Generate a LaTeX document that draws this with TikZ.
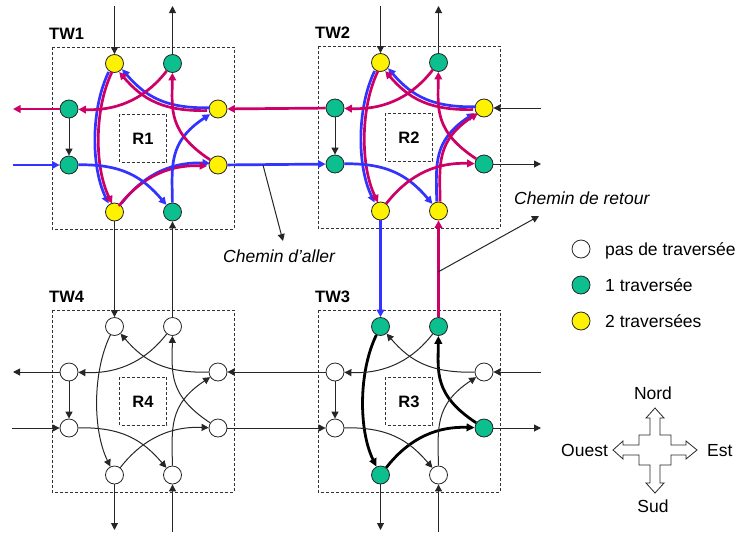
\documentclass[tikz,border=0pt]{standalone}
\usepackage{fontspec}
\setmainfont{Liberation Sans}
\usetikzlibrary{arrows.meta}
\definecolor{gr}{HTML}{0CBF8F}
\definecolor{pk}{HTML}{CC0066}
\definecolor{bl}{HTML}{3333FF}
\tikzset{
  x=1pt,y=-1pt,
  tnode/.style={circle,draw=black!85,line width=.8pt,minimum size=18pt,inner sep=0pt},
  nw/.style={tnode,fill=white},
  ng/.style={tnode,fill=gr},
  ny/.style={tnode,fill=yellow},
  dbox/.style={draw=black!80,line width=.7pt,dash pattern=on 3pt off 2pt},
  thn/.style={draw=black!85,line width=1pt,-{Triangle[length=7pt,width=7pt]}},
  thk/.style={draw=black,line width=2.8pt,-{Triangle[length=8pt,width=7.5pt]}},
  blu/.style={draw=bl,line width=2.7pt,-{Triangle[length=7.5pt,width=7.5pt]}},
  pnk/.style={draw=pk,line width=2.7pt,-{Triangle[length=7.5pt,width=7.5pt]}},
  txt/.style={inner sep=0pt,anchor=base west,font=\fontsize{17.5}{20}\selectfont},
  ctxt/.style={inner sep=0pt,anchor=base,font=\fontsize{17.5}{20}\selectfont},
  itxt/.style={txt,font=\fontsize{17.5}{20}\selectfont\itshape},
  btxt/.style={inner sep=0pt,anchor=base west,font=\fontsize{16.5}{20}\selectfont\bfseries},
  rtxt/.style={inner sep=0pt,anchor=base,font=\fontsize{16.5}{20}\selectfont\bfseries},
  p1/.style={transform canvas={xshift=-1.4pt,yshift=-1.4pt}},
  p2/.style={transform canvas={xshift=1.4pt,yshift=1.4pt}},
  p3/.style={transform canvas={xshift=-1.7pt}},
  p4/.style={transform canvas={xshift=1.7pt}},
}
\newcommand{\tower}[5]{%
  \path[dbox,draw] (#2-91,#3-91) rectangle (#2+91,#3+91);
  \path[dbox,draw] (#2-23.5,#3-24) rectangle (#2+23.5,#3+24);
  \node[rtxt] (#1R) at (#2,#3+6) {#4};
  \node[btxt] (#1L) at (#2-94,#3-98.5) {#1};
  \foreach \nm/\dx/\dy/\st in {#5}{
    \node[\st] (#1\nm) at (#2+\dx,#3+\dy) {};
  }%
}
\newcommand{\pAF}[1]{(#1a) .. controls +(-22,45) and +(-22,-45) .. (#1f)}
\newcommand{\pBH}[1]{(#1b) .. controls +(-24.5,31.5) and +(53,2) .. (#1h)}
\newcommand{\pCA}[1]{(#1c) .. controls +(-53,1) and +(30,35) .. (#1a)}
\newcommand{\pDB}[1]{(#1d) .. controls +(-50,-33) and +(-0.5,46) .. (#1b)}
\newcommand{\pEC}[1]{(#1e) .. controls +(-0.5,-46) and +(-50,33) .. (#1c)}
\newcommand{\pFD}[1]{(#1f) .. controls +(24.5,-31.5) and +(-53,-2) .. (#1d)}
\newcommand{\pGE}[1]{(#1g) .. controls +(53,-1) and +(-30,-35) .. (#1e)}
\newcommand{\pHG}[1]{(#1h) -- (#1g)}
\begin{document}
\begin{tikzpicture}
\useasboundingbox (0,0) rectangle (735,533);
% towers
\tower{TW1}{143}{138}{R1}{a/-28.5/-74.5/ny,b/29.5/-74.5/ng,c/75/-29/ny,d/75/27/ny,e/29.5/74/ng,f/-28.5/74/ny,g/-74/27/ng,h/-74/-29/ng}
\tower{TW2}{409}{137}{R2}{a/-28.5/-74.5/ny,b/29.5/-74.5/ng,c/75/-29/ny,d/75/27/ng,e/29.5/74/ny,f/-28.5/74/ny,g/-74/27/ng,h/-74/-29/ng}
\tower{TW3}{409}{401}{R3}{a/-28.5/-74.5/ng,b/29.5/-74.5/ng,c/75/-29/nw,d/75/27/ng,e/29.5/74/nw,f/-28.5/74/ng,g/-74/27/nw,h/-74/-29/nw}
\tower{TW4}{143}{401}{R4}{a/-28.5/-74.5/nw,b/29.5/-74.5/nw,c/75/-29/nw,d/75/27/nw,e/29.5/74/nw,f/-28.5/74/nw,g/-74/27/nw,h/-74/-29/nw}
% free ends
\coordinate (i1n) at (114.5,6);  \coordinate (o1n) at (172.5,6);
\coordinate (o1w) at (13,109);   \coordinate (i1w) at (13,165);
\coordinate (i2n) at (380.5,6);  \coordinate (o2n) at (438.5,6);
\coordinate (i2e) at (541,108);  \coordinate (o2e) at (541,164);
\coordinate (o4w) at (13,372);   \coordinate (i4w) at (12,428);
\coordinate (o4s) at (114.5,530);\coordinate (i4s) at (172.5,532);
\coordinate (o3s) at (380.5,530);\coordinate (i3s) at (438.5,532);
\coordinate (i3e) at (541,372);  \coordinate (o3e) at (541,428);
% TW1 routes
\draw[blu,p3] \pAF{TW1};  \draw[pnk,p4] \pAF{TW1};
\draw[blu,p2] \pCA{TW1};  \draw[pnk,p1] \pCA{TW1};
\draw[blu,p2] \pFD{TW1};  \draw[pnk,p1] \pFD{TW1};
\draw[blu] \pEC{TW1};
\draw[blu] \pGE{TW1};
\draw[pnk] \pBH{TW1};
\draw[pnk] \pDB{TW1};
\draw[thn] \pHG{TW1};
% TW2 routes
\draw[blu,p3] \pAF{TW2};  \draw[pnk,p4] \pAF{TW2};
\draw[blu,p2] \pCA{TW2};  \draw[pnk,p1] \pCA{TW2};
\draw[blu,p3] \pEC{TW2};  \draw[pnk,p4] \pEC{TW2};
\draw[blu] \pGE{TW2};
\draw[pnk] \pFD{TW2};
\draw[pnk] \pBH{TW2};
\draw[pnk] \pDB{TW2};
\draw[thn] \pHG{TW2};
% TW3 routes
\draw[thk] \pAF{TW3};
\draw[thk] \pDB{TW3};
\draw[thk] \pFD{TW3};
\draw[thn] \pBH{TW3};
\draw[thn] \pCA{TW3};
\draw[thn] \pEC{TW3};
\draw[thn] \pGE{TW3};
\draw[thn] \pHG{TW3};
% TW4 routes
\draw[thn] \pAF{TW4};
\draw[thn] \pBH{TW4};
\draw[thn] \pCA{TW4};
\draw[thn] \pDB{TW4};
\draw[thn] \pEC{TW4};
\draw[thn] \pFD{TW4};
\draw[thn] \pGE{TW4};
\draw[thn] \pHG{TW4};
% external links
\draw[thn] (i1n) -- (TW1a);
\draw[thn] (TW1b) -- (o1n);
\draw[pnk] (TW1h) -- (o1w);
\draw[blu] (i1w) -- (TW1g);
\draw[pnk] (TW2h) -- (TW1c);
\draw[blu] (TW1d) -- (TW2g);
\draw[thn] (TW1f) -- (TW4a);
\draw[thn] (TW4b) -- (TW1e);
\draw[thn] (i2n) -- (TW2a);
\draw[thn] (TW2b) -- (o2n);
\draw[thn] (i2e) -- (TW2c);
\draw[thn] (TW2d) -- (o2e);
\draw[blu] (TW2f) -- (TW3a);
\draw[pnk] (TW3b) -- (TW2e);
\draw[thn] (TW4h) -- (o4w);
\draw[thn] (i4w) -- (TW4g);
\draw[thn] (TW3h) -- (TW4c);
\draw[thn] (TW4d) -- (TW3g);
\draw[thn] (TW4f) -- (o4s);
\draw[thn] (i4s) -- (TW4e);
\draw[thn] (TW3f) -- (o3s);
\draw[thn] (i3s) -- (TW3e);
\draw[thn] (i3e) -- (TW3c);
\draw[thn] (TW3d) -- (o3e);
% annotations
\node[itxt] (aller) at (223,262) {Chemin d’aller};
\node[itxt] (retour) at (514,204) {Chemin de retour};
\coordinate (as) at (263,165); \coordinate (ae) at (283,241);
\coordinate (rs) at (438,272); \coordinate (re) at (539,216);
\draw[thn] (as) -- (ae);
\draw[thn] (rs) -- (re);
% legend
\node[nw] (l0) at (581,249) {};
\node[ng] (l1) at (581,285) {};
\node[ny] (l2) at (581,321) {};
\node[txt] (t0) at (605,255) {pas de traversée};
\node[txt] (t1) at (605,291) {1 traversée};
\node[txt] (t2) at (605,327) {2 traversées};
% compass
\draw[draw=black!85,line width=.8pt,fill=white]
  (655,408) -- (664,418) -- (660,418) -- (660,435) -- (671,435) -- (671,445)
  -- (686,445) -- (686,441) -- (697,450) -- (686,459) -- (686,455) -- (671,455)
  -- (671,465) -- (660,465) -- (660,483) -- (664,483) -- (655,493) -- (646,483)
  -- (650,483) -- (650,465) -- (639,465) -- (639,455) -- (623,455) -- (623,459)
  -- (613,450) -- (623,441) -- (623,445) -- (639,445) -- (639,435) -- (650,435)
  -- (650,418) -- (646,418) -- cycle;
\node[ctxt] (nord) at (653,399) {Nord};
\node[ctxt] (sud) at (653,512) {Sud};
\node[txt] (ouest) at (561,456) {Ouest};
\node[txt] (est) at (707,456) {Est};
\end{tikzpicture}
\end{document}
